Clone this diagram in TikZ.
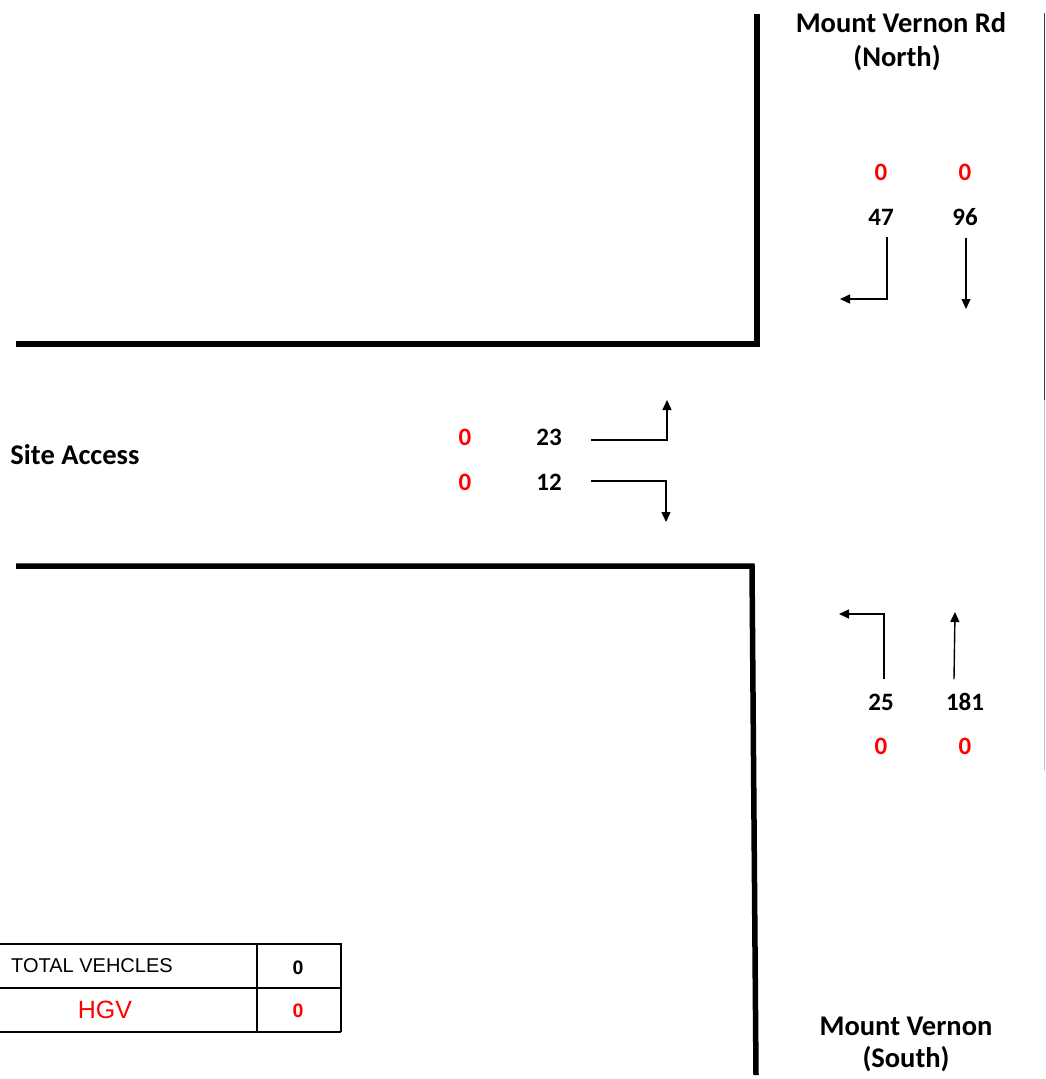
\documentclass[tikz,border=0pt]{standalone}
\usepackage{fontspec}
\setmainfont{Carlito}
\newfontfamily\arialfont{Liberation Sans}
\usetikzlibrary{arrows.meta}
\definecolor{hgvred}{RGB}{255,0,0}
\tikzset{
  road/.style={line width=5.5pt, line cap=butt, line join=miter},
  flow/.style={line width=1.4pt, -{Triangle[width=9pt,length=10pt]}},
  lbl/.style={font=\fontsize{28.5}{34}\selectfont\bfseries, inner sep=0pt, anchor=center},
  num/.style={font=\fontsize{25}{30}\selectfont\bfseries, inner sep=0pt, anchor=center, text height=16pt, text depth=0pt},
  rednum/.style={num, text=hgvred},
  cellline/.style={line width=1.6pt},
}
\begin{document}
\begin{tikzpicture}[x=1pt, y=-1pt]
\useasboundingbox (0,0) rectangle (1045,1079);
% roads
\draw[road] (757,14) -- (757,344) -- (16,344);
\draw[road] (16,566) -- (752,566) -- (756,1075);
\draw[line width=1pt, black!75] (1044,13) -- (1044,400);
\draw[line width=1pt, black!25] (1044,400) -- (1044,770);
% labels
\node[lbl] (north1) at (901,23) {Mount Vernon Rd};
\node[lbl] (north2) at (897,58) {(North)};
\node[lbl] (site) at (75,455) {Site Access};
\node[lbl] (south1) at (906,1026) {Mount Vernon};
\node[lbl] (south2) at (906,1059) {(South)};
% north numbers
\node[rednum] (nh1) at (881,172) {0};
\node[rednum] (nh2) at (965,172) {0};
\node[num] (n47) at (881,217) {47};
\node[num] (n96) at (965,217) {96};
% site numbers
\node[rednum] (sh1) at (465,437) {0};
\node[rednum] (sh2) at (465,482) {0};
\node[num] (s23) at (549,437) {23};
\node[num] (s12) at (549,482) {12};
% south numbers
\node[num] (s25) at (881,702) {25};
\node[num] (s181) at (965,702) {181};
\node[rednum] (sth1) at (881,746) {0};
\node[rednum] (sth2) at (965,746) {0};
% arrow coordinates
\coordinate (a47s) at (887,237);
\coordinate (a47e) at (840,299);
\coordinate (a96s) at (966,238);
\coordinate (a96e) at (966,309);
\coordinate (a23s) at (591,440);
\coordinate (a23e) at (667,400);
\coordinate (a12s) at (591,481);
\coordinate (a12e) at (666,522);
\coordinate (a25s) at (884,679);
\coordinate (a25e) at (839,614);
\coordinate (a181s) at (954,679);
\coordinate (a181e) at (955,612);
\draw[flow] (a47s) |- (a47e);
\draw[flow] (a96s) -- (a96e);
\draw[flow] (a23s) -| (a23e);
\draw[flow] (a12s) -| (a12e);
\draw[flow] (a25s) |- (a25e);
\draw[flow] (a181s) -- (a181e);
% table
\draw[cellline] (0,944) -- (341,944) -- (341,1032);
\draw[cellline] (0,988) -- (341,988);
\draw[cellline] (0,1032) -- (341,1032);
\draw[cellline] (257,944) -- (257,1032);
\node[font=\arialfont\fontsize{20}{24}\selectfont, anchor=west, inner sep=0pt] (tv) at (11,966) {TOTAL VEHCLES};
\node[font=\arialfont\fontsize{19.5}{24}\selectfont\bfseries, inner sep=0pt] (tv0) at (298,968) {0};
\node[font=\arialfont\fontsize{25}{30}\selectfont, text=hgvred, inner sep=0pt] (hgv) at (105,1010) {HGV};
\node[font=\arialfont\fontsize{19.5}{24}\selectfont\bfseries, text=hgvred, inner sep=0pt] (hgv0) at (298,1011) {0};
\end{tikzpicture}
\end{document}
